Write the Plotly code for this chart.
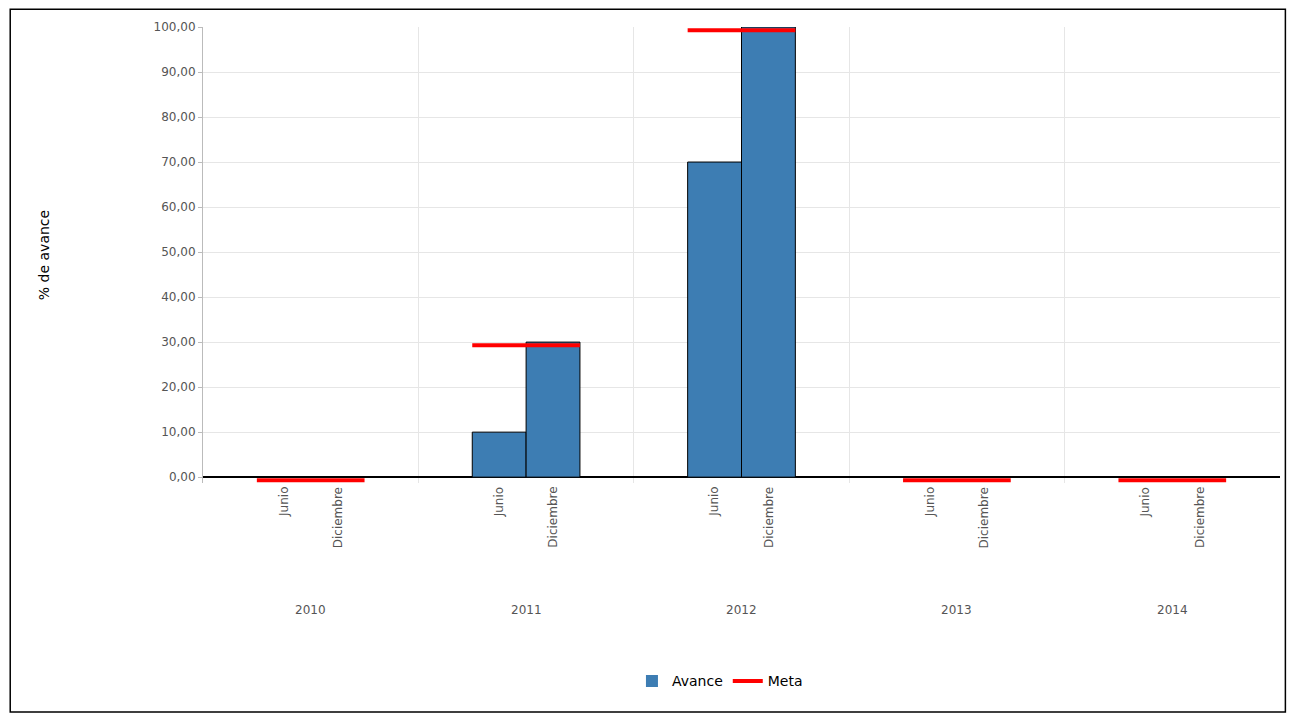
import plotly.graph_objects as go

years = ["2010", "2011", "2012", "2013", "2014"]
periods = ["Junio", "Diciembre"]
avance_junio = [0, 10, 70, 0, 0]
avance_diciembre = [0, 30, 100, 0, 0]
meta = [0, 30, 100, 0, 0]

bw = 0.25
bar_x, bar_y = [], []
for i in range(len(years)):
    bar_x += [i - bw / 2, i + bw / 2]
    bar_y += [avance_junio[i], avance_diciembre[i]]

meta_x, meta_y = [], []
for i, m in enumerate(meta):
    meta_x += [i - bw, i + bw, None]
    meta_y += [m - 0.7, m - 0.7, None]

fig = go.Figure()
fig.add_trace(go.Bar(x=bar_x, y=bar_y, width=bw, name="Avance",
                     marker=dict(color="#3d7db3",
                                 line=dict(color="black", width=[1 if v else 0 for v in bar_y]))))
fig.add_trace(go.Scatter(x=meta_x, y=meta_y, mode="lines", name="Meta",
                         line=dict(color="#ff0000", width=4)))

tick_font = dict(family="DejaVu Sans", size=12, color="#555555")
for i, yr in enumerate(years):
    for j, p in enumerate(periods):
        fig.add_annotation(x=i + (j - 0.5) * bw, y=0, yref="y", text=p, textangle=-90,
                           showarrow=False, yanchor="top", yshift=-8, font=tick_font)
    fig.add_annotation(x=i, y=0, yref="y", text=yr, showarrow=False,
                       yanchor="top", yshift=-124, font=tick_font)

fig.add_shape(type="rect", xref="paper", yref="paper", x0=-0.179, x1=1.005,
              y0=-0.502, y1=1.039, line=dict(color="black", width=1.5))

fig.update_layout(
    width=1279, height=705,
    margin=dict(l=195, r=7, t=19, b=230),
    plot_bgcolor="white", paper_bgcolor="white",
    separators=",.",
    showlegend=True,
    legend=dict(orientation="h", x=0.48, xanchor="center", y=-0.435, yanchor="middle",
                font=dict(family="DejaVu Sans", size=14, color="black")),
    xaxis=dict(range=[-0.5, 4.5], tickvals=[0.5, 1.5, 2.5, 3.5], showticklabels=False,
               showgrid=True, gridcolor="#e6e6e6", showline=False),
    yaxis=dict(range=[-1.3, 100], tickvals=list(range(0, 101, 10)), tickformat=".2f",
               tickfont=tick_font,
               showgrid=True, gridcolor="#e6e6e6",
               zeroline=True, zerolinecolor="black", zerolinewidth=1.5,
               showline=True, linecolor="#bbbbbb", ticks="outside", ticklen=4,
               tickcolor="#bbbbbb",
               title=dict(text="% de avance", standoff=100,
                          font=dict(family="DejaVu Sans", size=14, color="black"))),
)
fig.write_html("out.html")
